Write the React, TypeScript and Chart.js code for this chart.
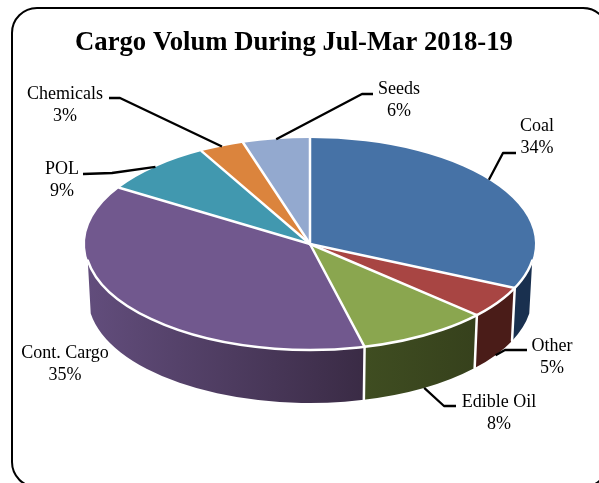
import React, { useEffect, useRef } from "react";
import { Chart, registerables } from "chart.js";

Chart.register(...registerables);

const titleText = "Cargo Volum During Jul-Mar 2018-19";
const categories = ["Coal", "Other", "Edible Oil", "Cont. Cargo", "POL", "Chemicals", "Seeds"];
// Percentages printed on the labels
const printedPercent = [34, 5, 8, 35, 9, 3, 6];
// Share of the turn each slice occupies in the picture (perspective shifts them a little)
const drawnShare = [31.8, 4.9, 9.4, 37.8, 8.1, 3.2, 4.8];
const topColors = ["#4672A6", "#A84543", "#8AA64F", "#71588E", "#4198AF", "#DB843D", "#93A9CF"];
const wallLeft = ["#19304F", "#4A1C18", "#3F4D21", "#624D7C", "#2A6070", "#8A5020", "#5A6A85"];
const wallRight = ["#19304F", "#4A1C18", "#36411C", "#3A2B45", "#2A6070", "#8A5020", "#5A6A85"];

// Geometry of the tilted pie
const PIE = { cx: 310, cy: 244, rx: 225, ry: 106, bcy: 297, brx: 222, bry: 106 };
const WALL_FROM = (9 * Math.PI) / 180; // canvas angle where the wall becomes visible
const WALL_TO = (171 * Math.PI) / 180;

// Label layout: text centre, first line y, elbow and end of the leader, anchor fraction along the slice
type Lab = { x: number; y: number; elbow?: [number, number]; end?: [number, number]; frac?: number; onWall?: boolean };
const labelLayout: Lab[] = [
  { x: 537, y: 126, elbow: [503, 153], end: [516, 153], frac: 0.46 },
  { x: 552, y: 346, elbow: [505, 350], end: [527, 350], frac: 0.5, onWall: true },
  { x: 499, y: 402, elbow: [444, 406], end: [456, 406], frac: 0.5, onWall: true },
  { x: 65, y: 353 },
  { x: 62, y: 169, elbow: [112, 173], end: [83, 174], frac: 0.5 },
  { x: 65, y: 94, elbow: [120, 98], end: [109, 98], frac: 0.5 },
  { x: 399, y: 89, elbow: [362, 94], end: [373, 94], frac: 0.5 },
];

const tilted3D = {
  id: "tilted3D",
  beforeDraw(chart: any) {
    const { ctx } = chart;
    ctx.save();
    ctx.fillStyle = "#fff";
    ctx.fillRect(0, 0, chart.width, chart.height);
    ctx.beginPath();
    ctx.roundRect(12, 8, 596, 479, 25);
    ctx.lineWidth = 2;
    ctx.strokeStyle = "#000";
    ctx.stroke();
    ctx.restore();
  },
  beforeDatasetsDraw(chart: any) {
    const { ctx } = chart;
    const arcs = chart.getDatasetMeta(0).data;
    const norm = (a: number) => {
      let v = a;
      while (v < -Math.PI / 2 - 1e-6) v += 2 * Math.PI;
      while (v >= (3 * Math.PI) / 2 - 1e-6) v -= 2 * Math.PI;
      return v;
    };
    arcs.forEach((arc: any, i: number) => {
      const s = norm(arc.startAngle);
      const e = s + (arc.endAngle - arc.startAngle);
      const a = Math.max(s, WALL_FROM);
      const b = Math.min(e, WALL_TO);
      if (b <= a) return;
      const xa = PIE.cx + PIE.rx * Math.cos(a);
      const xb = PIE.cx + PIE.rx * Math.cos(b);
      const g = ctx.createLinearGradient(Math.min(xa, xb), 0, Math.max(xa, xb), 0);
      g.addColorStop(0, wallLeft[i]);
      g.addColorStop(1, wallRight[i]);
      ctx.beginPath();
      ctx.ellipse(PIE.cx, PIE.cy, PIE.rx, PIE.ry, 0, a, b, false);
      ctx.ellipse(PIE.cx, PIE.bcy, PIE.brx, PIE.bry, 0, b, a, true);
      ctx.closePath();
      ctx.fillStyle = g;
      ctx.fill();
    });
    const first = arcs[0];
    const k = PIE.ry / PIE.rx;
    ctx.save();
    ctx.translate(PIE.cx, PIE.cy);
    ctx.scale(1, k);
    ctx.translate(-first.x, -first.y);
  },
  afterDatasetsDraw(chart: any) {
    const { ctx } = chart;
    ctx.restore();
    const arcs = chart.getDatasetMeta(0).data;
    ctx.save();
    ctx.strokeStyle = "#fff";
    ctx.lineWidth = 2.5;
    ctx.lineCap = "round";
    arcs.forEach((arc: any) => {
      const c = Math.cos(arc.endAngle);
      const n = Math.sin(arc.endAngle);
      ctx.beginPath();
      ctx.moveTo(PIE.cx, PIE.cy);
      ctx.lineTo(PIE.cx + PIE.rx * c, PIE.cy + PIE.ry * n);
      ctx.stroke();
      let a = arc.endAngle;
      while (a > Math.PI) a -= 2 * Math.PI;
      if (a > WALL_FROM && a < WALL_TO) {
        ctx.beginPath();
        ctx.moveTo(PIE.cx + PIE.rx * c, PIE.cy + PIE.ry * n);
        ctx.lineTo(PIE.cx + PIE.brx * c, PIE.bcy + PIE.bry * n);
        ctx.stroke();
      }
    });
    ctx.beginPath();
    ctx.ellipse(PIE.cx, PIE.cy, PIE.rx, PIE.ry, 0, WALL_FROM, WALL_TO, false);
    ctx.stroke();
    ctx.restore();
  },
  afterDraw(chart: any) {
    const { ctx } = chart;
    const arcs = chart.getDatasetMeta(0).data;
    ctx.save();
    ctx.strokeStyle = "#000";
    ctx.lineWidth = 2.3;
    ctx.lineJoin = "round";
    labelLayout.forEach((lab, i) => {
      if (lab.elbow && lab.end) {
        const arc = arcs[i];
        const t = arc.startAngle + (arc.endAngle - arc.startAngle) * (lab.frac ?? 0.5);
        const ax = lab.onWall ? PIE.cx + PIE.brx * Math.cos(t) : PIE.cx + PIE.rx * Math.cos(t);
        const ay = lab.onWall ? PIE.bcy + PIE.bry * Math.sin(t) : PIE.cy + PIE.ry * Math.sin(t);
        ctx.beginPath();
        ctx.moveTo(ax, ay);
        ctx.lineTo(lab.elbow[0], lab.elbow[1]);
        ctx.lineTo(lab.end[0], lab.end[1]);
        ctx.stroke();
      }
      ctx.fillStyle = "#000";
      ctx.font = '18px "Liberation Serif"';
      ctx.textAlign = "center";
      ctx.textBaseline = "middle";
      ctx.fillText(categories[i], lab.x, lab.y);
      ctx.fillText(`${printedPercent[i]}%`, lab.x, lab.y + 22);
    });
    ctx.restore();
  },
};

export default function App() {
  const ref = useRef<HTMLCanvasElement>(null);
  useEffect(() => {
    const chart = new Chart(ref.current as HTMLCanvasElement, {
      type: "pie",
      data: {
        labels: categories,
        datasets: [
          {
            data: drawnShare,
            backgroundColor: topColors,
            borderWidth: 0,
            radius: PIE.rx,
            clip: false,
          } as any,
        ],
      },
      options: {
        responsive: false,
        animation: false,
        events: [],
        layout: { padding: { left: 0, right: 11, top: 0, bottom: 0 } },
        plugins: {
          legend: { display: false },
          tooltip: { enabled: false },
          title: {
            display: true,
            text: titleText,
            color: "#000",
            font: { family: '"Liberation Serif"', size: 26.7, weight: "bold" },
            padding: { top: 27, bottom: 6 },
          },
        },
      },
      plugins: [tilted3D],
    } as any);
    return () => chart.destroy();
  }, []);
  return (
    <div style={{ position: "fixed", left: 0, top: 0, width: 599, height: 483, overflow: "hidden", background: "#fff" }}>
      <canvas ref={ref} width={599} height={483} style={{ display: "block" }} />
    </div>
  );
}
